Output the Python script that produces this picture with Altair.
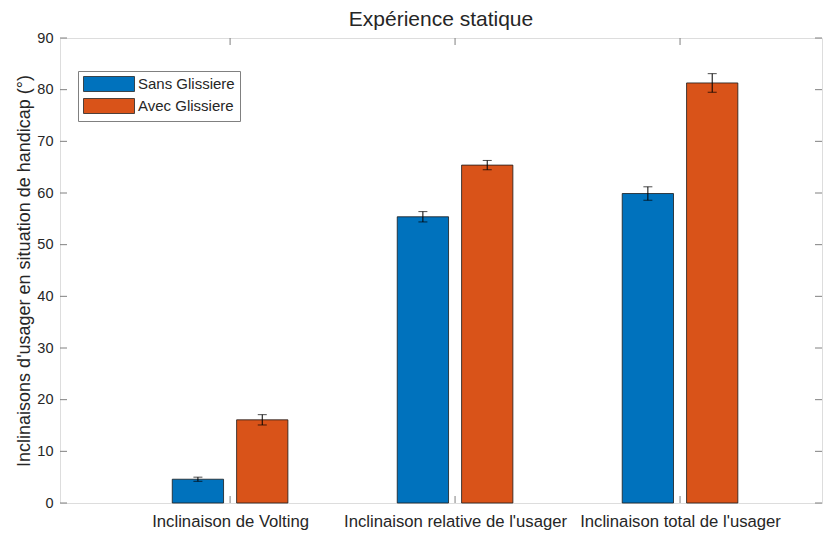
import json
import altair as alt
import pandas as pd

# ---- data ----
categories = ["Inclinaison de Volting",
              "Inclinaison relative de l'usager",
              "Inclinaison total de l'usager"]
series = ["Sans Glissiere", "Avec Glissiere"]
sans_values = [4.6, 55.4, 59.9]
sans_err = [0.4, 1.0, 1.3]
avec_values = [16.1, 65.4, 81.3]
avec_err = [1.0, 0.9, 1.8]
y_ticks = list(range(0, 91, 10))
x_ticks = [1, 2, 3]

# ---- styling / layout ----
colors = ["#0072BD", "#D95319"]
TEXT = "#262626"
FRAME = "#808080"
FONT = "Liberation Sans"
X_MIN, X_MAX = 0.244, 3.631
Y_MIN, Y_MAX = 0, 90
BAR_W = 0.228
GAP = 0.029
TICK_LEN = 7

rows = []
for i, cat in enumerate(categories):
    pos = x_ticks[i]
    for j, (s, vals, errs) in enumerate([(series[0], sans_values, sans_err),
                                         (series[1], avec_values, avec_err)]):
        if j == 0:
            x0, x1 = pos - GAP - BAR_W, pos - GAP
        else:
            x0, x1 = pos + GAP, pos + GAP + BAR_W
        rows.append(dict(cat=cat, series=s, x0=x0, x1=x1, xc=(x0 + x1) / 2,
                         value=vals[i], lo=vals[i] - errs[i], hi=vals[i] + errs[i]))
df = pd.DataFrame(rows)
yt = pd.DataFrame({"v": y_ticks})
xt = pd.DataFrame({"v": x_ticks})

x_scale = alt.Scale(domain=[X_MIN, X_MAX], nice=False, zero=False)
y_scale = alt.Scale(domain=[Y_MIN, Y_MAX], nice=False)

label_expr = json.dumps(categories) + "[datum.value - 1]"

bars = alt.Chart(df).mark_bar(stroke="#1a1a1a", strokeWidth=0.8).encode(
    x=alt.X("x0:Q", scale=x_scale,
            axis=alt.Axis(values=x_ticks, labelExpr=label_expr, title=None,
                          ticks=False, domain=False, grid=False,
                          labelFontSize=16.7, labelPadding=10, labelColor=TEXT,
                          labelFont=FONT, labelLimit=400)),
    x2="x1:Q",
    y=alt.Y("value:Q", scale=y_scale,
            axis=alt.Axis(values=y_ticks,
                          title="Inclinaisons d'usager en situation de handicap (°)",
                          ticks=False, domain=False, grid=False,
                          labelFontSize=14.5, labelPadding=7, labelColor=TEXT,
                          labelFont=FONT, titleFont=FONT, titleFontSize=18,
                          titleFontWeight="normal", titleColor=TEXT,
                          titlePadding=3)),
    y2=alt.Y2(datum=Y_MIN),
    color=alt.Color("series:N", scale=alt.Scale(domain=series, range=colors),
                    legend=alt.Legend(title=None, orient="none", legendX=18, legendY=33,
                                      fillColor="white", strokeColor=FRAME, padding=5,
                                      symbolType="M-3.4,-1L3.4,-1L3.4,1L-3.4,1Z",
                                      symbolSize=225, symbolOffset=18,
                                      labelOffset=21, rowPadding=2,
                                      symbolStrokeColor="#262626",
                                      symbolStrokeWidth=0.8, labelFontSize=15,
                                      labelColor=TEXT, labelFont=FONT,
                                      symbolOpacity=1)),
)

err_rule = alt.Chart(df).mark_rule(color="black", strokeWidth=1).encode(
    x="xc:Q", y="lo:Q", y2="hi:Q")

caps = alt.Chart(df).transform_fold(["lo", "hi"], as_=["k", "ev"]).mark_tick(
    orient="horizontal", size=9, thickness=1, color="black").encode(
    x="xc:Q", y="ev:Q")

left_ticks = alt.Chart(yt).mark_rule(color=FRAME, x2Offset=TICK_LEN).encode(
    x=alt.X(datum=X_MIN), x2=alt.X2(datum=X_MIN), y="v:Q")
right_ticks = alt.Chart(yt).mark_rule(color=FRAME, x2Offset=-TICK_LEN).encode(
    x=alt.X(datum=X_MAX), x2=alt.X2(datum=X_MAX), y="v:Q")
bottom_ticks = alt.Chart(xt).mark_rule(color=FRAME, y2Offset=-TICK_LEN).encode(
    x="v:Q", y=alt.Y(datum=Y_MIN), y2=alt.Y2(datum=Y_MIN))
top_ticks = alt.Chart(xt).mark_rule(color=FRAME, y2Offset=TICK_LEN).encode(
    x="v:Q", y=alt.Y(datum=Y_MAX), y2=alt.Y2(datum=Y_MAX))

chart = alt.layer(bars, err_rule, caps, left_ticks, right_ticks, bottom_ticks, top_ticks).properties(
    width=762, height=465,
    title=alt.TitleParams("Expérience statique", fontSize=21, font=FONT,
                          fontWeight="normal", color=TEXT, offset=0, frame="group"),
    autosize=alt.AutoSizeParams(type="none"),
    padding={"left": 52, "top": 30, "right": 10, "bottom": 30},
).configure_view(stroke=FRAME, strokeWidth=1).configure(background="white")

chart.save("out.html", embed_options={"renderer": "svg", "actions": False})
